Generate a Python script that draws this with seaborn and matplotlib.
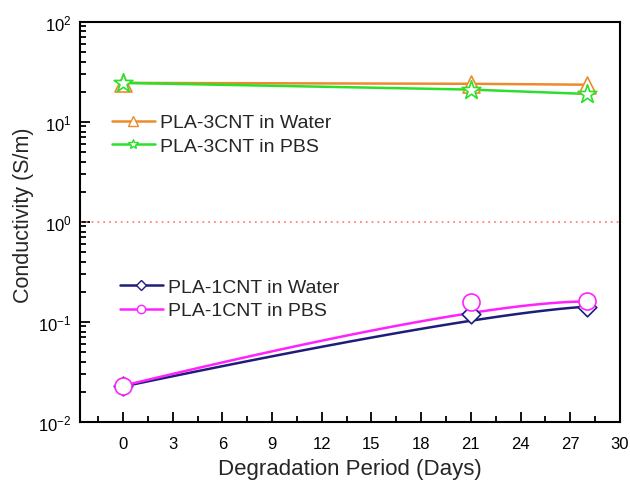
import numpy as np
import pandas as pd
import seaborn as sns
import matplotlib.pyplot as plt
from matplotlib.lines import Line2D
from matplotlib.ticker import LogLocator, MultipleLocator, NullFormatter

sns.set_style('white')
plt.rcParams['font.family'] = ['Liberation Sans', 'DejaVu Sans']
plt.rcParams['mathtext.fontset'] = 'custom'
plt.rcParams['mathtext.rm'] = 'Liberation Sans'

# degradation days and conductivity (S/m)
days = [0, 21, 28]
cnt3_water = [24.5, 24.0, 23.5]
cnt3_pbs = [24.5, 21.0, 19.0]
cnt1_water = [0.0226, 0.120, 0.142]
cnt1_pbs = [0.0230, 0.158, 0.160]
threshold = 1.0

xticks = [0, 3, 6, 9, 12, 15, 18, 21, 24, 27, 30]

c_orange = '#EE8A2C'
c_green = '#2BE02B'
c_navy = '#1E1E7A'
c_magenta = '#FF22FF'

fig, ax = plt.subplots(figsize=(6.3, 4.85), dpi=100)
fig.subplots_adjust(left=0.127, right=0.984, top=0.953, bottom=0.128)

df = pd.DataFrame({'day': days, 'w3': cnt3_water, 'p3': cnt3_pbs,
                   'w1': cnt1_water, 'p1': cnt1_pbs})

ax.axhline(threshold, color='#FF7070', ls=(0, (1, 2.5)), lw=1.2, zorder=1)

# straight lines for 3CNT
sns.lineplot(data=df, x='day', y='w3', color=c_orange, lw=1.8, ax=ax, zorder=2)
sns.lineplot(data=df, x='day', y='p3', color=c_green, lw=1.8, ax=ax, zorder=2)


# B-spline through 3 points = quadratic Bezier in (x, log y), like Origin
def bspline(xv, yv):
    t = np.linspace(0, 1, 100)[:, None]
    p = np.column_stack([xv, np.log10(yv)])
    pts = (1 - t) ** 2 * p[0] + 2 * t * (1 - t) * p[1] + t ** 2 * p[2]
    return pd.DataFrame({'day': pts[:, 0], 'v': 10 ** pts[:, 1]})


for col, c in [('w1', c_navy), ('p1', c_magenta)]:
    sns.lineplot(data=bspline(df['day'], df[col]), x='day', y='v', color=c,
                 lw=1.8, ax=ax, zorder=2, sort=False, estimator=None)

# hollow markers
mk = dict(facecolor='white', s=150, linewidth=1.2, zorder=3, ax=ax, legend=False)
sns.scatterplot(data=df, x='day', y='w3', marker='^', edgecolor=c_orange, **mk)
sns.scatterplot(data=df, x='day', y='p3', marker='*', edgecolor=c_green,
                **{**mk, 's': 200})
sns.scatterplot(data=df, x='day', y='w1', marker='D', edgecolor=c_navy,
                **{**mk, 's': 90})
sns.scatterplot(data=df, x='day', y='p1', marker='o', edgecolor=c_magenta, **mk)

ax.set_yscale('log')
ax.set_ylim(1e-2, 1e2)
ax.set_xlim(-2.6, 30)
ax.set_xticks(xticks)
ax.xaxis.set_minor_locator(MultipleLocator(1.5))
ax.yaxis.set_major_locator(LogLocator(base=10, numticks=10))
ax.yaxis.set_minor_locator(LogLocator(base=10, subs=np.arange(2, 10), numticks=10))
ax.yaxis.set_minor_formatter(NullFormatter())

ax.tick_params(which='both', direction='in', bottom=True, left=True,
               top=False, right=False, labelsize=12, colors='black', width=1.3)
ax.tick_params(axis='both', which='major', length=7)
ax.tick_params(axis='both', which='minor', length=4)
ax.tick_params(axis='y', which='major', pad=6)
ax.tick_params(axis='x', which='major', pad=10)
for s in ax.spines.values():
    s.set_color('black')
    s.set_linewidth(1.5)

ax.set_xlabel('Degradation Period (Days)', fontsize=16, labelpad=5)
ax.set_ylabel('Conductivity (S/m)', fontsize=15.5)
ax.yaxis.set_label_coords(-0.085, 0.52)


def handle(c, m, ms):
    return Line2D([], [], color=c, lw=1.8, marker=m, ms=ms,
                  markerfacecolor='white', markeredgecolor=c, markeredgewidth=1)


leg_kw = dict(loc='center left', frameon=False, fontsize=14, handlelength=2.2,
              handletextpad=0.28, labelspacing=0.3, borderaxespad=0,
              borderpad=0)
leg1 = ax.legend([handle(c_orange, '^', 6.5), handle(c_green, '*', 7.5)],
                 ['PLA-3CNT in Water', 'PLA-3CNT in PBS'],
                 bbox_to_anchor=(0.059, 0.719), **leg_kw)
ax.add_artist(leg1)
ax.legend([handle(c_navy, 'D', 5), handle(c_magenta, 'o', 6)],
          ['PLA-1CNT in Water', 'PLA-1CNT in PBS'],
          bbox_to_anchor=(0.074, 0.3075), **leg_kw)

fig.savefig('out.png', dpi=100)
